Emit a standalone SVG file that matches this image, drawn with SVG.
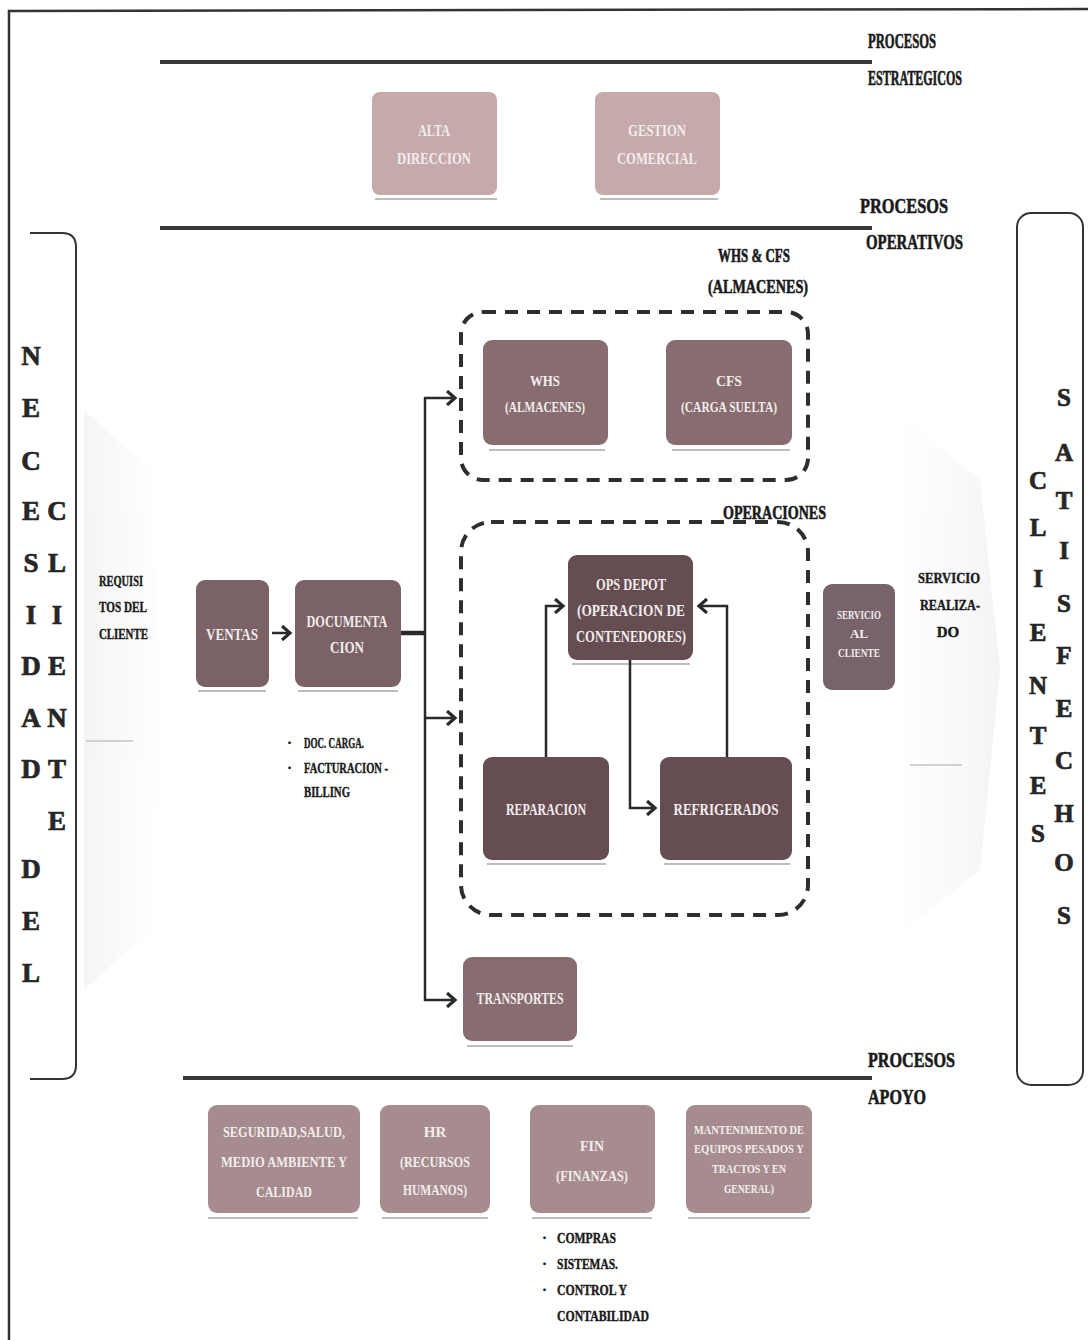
<svg xmlns="http://www.w3.org/2000/svg" width="1088" height="1340" viewBox="0 0 1088 1340">
  <defs>
    <style>
      .t { font-family: "Liberation Serif", "Times New Roman", serif; font-weight: bold; }
      .lbl { fill: #1a1a1a; stroke: #1a1a1a; stroke-width: 0.6px; font-size: 22px; }
      .big { fill: #262626; stroke: #262626; stroke-width: 0.7px; font-size: 27px; text-anchor: middle; }
      .small { fill: #1a1a1a; stroke: #1a1a1a; stroke-width: 0.4px; font-size: 15px; }
      .wt { fill: #f2ecec; text-anchor: middle; font-size: 16px; }
      .rule { stroke: #3a3a3a; stroke-width: 4; }
      .dash { fill: none; stroke: #2e2e2e; stroke-width: 4; stroke-dasharray: 13 9; }
      .conn { fill: none; stroke: #2a2a2a; stroke-width: 2.5; }
      .strat { fill: #c6a9ab; }
      .mid { fill: #876c70; }
      .dark { fill: #654d52; }
      .doc { fill: #7a6266; }
      .sup { fill: #a68c8f; }
      .shadow { stroke: #bdbdbd; stroke-width: 2; }
    </style>
    <marker id="arr" markerUnits="userSpaceOnUse" markerWidth="14" markerHeight="16" refX="9" refY="8" orient="auto">
      <path d="M1,1 L9,8 L1,15" fill="none" stroke="#2a2a2a" stroke-width="3.2"/>
    </marker>
    <linearGradient id="fadeL" x1="0" y1="0" x2="1" y2="0">
      <stop offset="0" stop-color="#e6e6e6" stop-opacity="0.9"/>
      <stop offset="1" stop-color="#f4f4f4" stop-opacity="0.2"/>
    </linearGradient>
    <linearGradient id="fadeR" x1="0" y1="0" x2="1" y2="0">
      <stop offset="0" stop-color="#f4f4f4" stop-opacity="0.2"/>
      <stop offset="1" stop-color="#e4e4e4" stop-opacity="0.9"/>
    </linearGradient>
  </defs>

  <rect x="0" y="0" width="1088" height="1340" fill="#ffffff"/>

  <!-- page frame -->
  <path d="M9,1340 L9,11 L1088,9" fill="none" stroke="#333" stroke-width="2.5"/>

  <!-- soft flow arrows behind the operations band -->
  <g id="flow-in" opacity="0.45">
    <path d="M84,410 L150,470 L160,700 L150,930 L84,990 Z" fill="url(#fadeL)"/>
    <line x1="86" y1="741" x2="133" y2="741" stroke="#9a9a9a" stroke-width="2"/>
  </g>
  <g id="flow-out" opacity="0.45">
    <path d="M905,420 L980,480 L1000,670 L980,870 L905,930 Z" fill="url(#fadeR)"/>
    <line x1="910" y1="765" x2="962" y2="765" stroke="#9a9a9a" stroke-width="2"/>
  </g>

  <!-- section rules and titles -->
  <g id="strategic-title">
    <line class="rule" x1="160" y1="62" x2="872" y2="62"/>
    <text class="t lbl" x="868" y="48" style="font-size:20px" textLength="68" lengthAdjust="spacingAndGlyphs">PROCESOS</text>
    <text class="t lbl" x="868" y="85" style="font-size:20px" textLength="94" lengthAdjust="spacingAndGlyphs">ESTRATEGICOS</text>
  </g>
  <g id="operative-title">
    <line class="rule" x1="160" y1="228" x2="872" y2="228"/>
    <text class="t lbl" x="860" y="213" textLength="88" lengthAdjust="spacingAndGlyphs">PROCESOS</text>
    <text class="t lbl" x="866" y="249" textLength="97" lengthAdjust="spacingAndGlyphs">OPERATIVOS</text>
  </g>
  <g id="support-title">
    <line class="rule" x1="183" y1="1078" x2="872" y2="1078"/>
    <text class="t lbl" x="868" y="1067" textLength="87" lengthAdjust="spacingAndGlyphs">PROCESOS</text>
    <text class="t lbl" x="868" y="1104" textLength="58" lengthAdjust="spacingAndGlyphs">APOYO</text>
  </g>

  <!-- customer need (left) -->
  <g id="necesidad-cliente">
    <path d="M30,233 L62,233 Q76,233 76,247 L76,1065 Q76,1079 62,1079 L30,1079" fill="none" stroke="#333" stroke-width="2"/>
    <g class="t">
      <text class="big" x="31" y="365">N</text><text class="big" x="31" y="417">E</text><text class="big" x="31" y="470">C</text>
      <text class="big" x="31" y="520">E</text><text class="big" x="31" y="572">S</text><text class="big" x="31" y="624">I</text>
      <text class="big" x="31" y="675">D</text><text class="big" x="31" y="727">A</text><text class="big" x="31" y="778">D</text>
      <text class="big" x="31" y="878">D</text><text class="big" x="31" y="930">E</text><text class="big" x="31" y="982">L</text>
      <text class="big" x="57" y="520">C</text><text class="big" x="57" y="572">L</text><text class="big" x="57" y="624">I</text>
      <text class="big" x="57" y="675">E</text><text class="big" x="57" y="727">N</text><text class="big" x="57" y="778">T</text>
      <text class="big" x="57" y="830">E</text>
    </g>
  </g>

  <!-- satisfied customers (right) -->
  <g id="clientes-satisfechos">
    <rect x="1017" y="213" width="66" height="872" rx="14" fill="none" stroke="#333" stroke-width="2"/>
    <g class="t">
      <text class="big" style="font-size:25px" x="1038" y="489">C</text><text class="big" style="font-size:25px" x="1038" y="536">L</text><text class="big" style="font-size:25px" x="1038" y="587">I</text>
      <text class="big" style="font-size:25px" x="1038" y="641">E</text><text class="big" style="font-size:25px" x="1038" y="694">N</text><text class="big" style="font-size:25px" x="1038" y="744">T</text>
      <text class="big" style="font-size:25px" x="1038" y="794">E</text><text class="big" style="font-size:25px" x="1038" y="842">S</text>
      <text class="big" style="font-size:25px" x="1064" y="406">S</text><text class="big" style="font-size:25px" x="1064" y="461">A</text><text class="big" style="font-size:25px" x="1064" y="509">T</text>
      <text class="big" style="font-size:25px" x="1064" y="559">I</text><text class="big" style="font-size:25px" x="1064" y="612">S</text><text class="big" style="font-size:25px" x="1064" y="664">F</text>
      <text class="big" style="font-size:25px" x="1064" y="717">E</text><text class="big" style="font-size:25px" x="1064" y="769">C</text><text class="big" style="font-size:25px" x="1064" y="822">H</text>
      <text class="big" style="font-size:25px" x="1064" y="871">O</text><text class="big" style="font-size:25px" x="1064" y="924">S</text>
    </g>
  </g>

  <g id="requisitos" class="t">
    <text class="small" x="99" y="586" textLength="44" lengthAdjust="spacingAndGlyphs">REQUISI</text>
    <text class="small" x="99" y="612" textLength="48" lengthAdjust="spacingAndGlyphs">TOS DEL</text>
    <text class="small" x="99" y="639" textLength="49" lengthAdjust="spacingAndGlyphs">CLIENTE</text>
  </g>
  <g id="servicio-realizado" class="t" text-anchor="middle">
    <text class="small" x="949" y="583" textLength="62" lengthAdjust="spacingAndGlyphs">SERVICIO</text>
    <text class="small" x="950" y="610" textLength="60" lengthAdjust="spacingAndGlyphs">REALIZA-</text>
    <text class="small" x="948" y="637">DO</text>
  </g>

  <!-- strategic processes -->
  <g id="alta-direccion">
    <rect class="strat" x="372" y="92" width="125" height="103" rx="8"/>
    <line class="shadow" x1="375" y1="199" x2="497" y2="199"/>
    <text class="t wt" x="434" y="136" textLength="32" lengthAdjust="spacingAndGlyphs">ALTA</text>
    <text class="t wt" x="434" y="164" textLength="74" lengthAdjust="spacingAndGlyphs">DIRECCION</text>
  </g>
  <g id="gestion-comercial">
    <rect class="strat" x="595" y="92" width="125" height="103" rx="8"/>
    <line class="shadow" x1="600" y1="199" x2="718" y2="199"/>
    <text class="t wt" x="657" y="136" textLength="58" lengthAdjust="spacingAndGlyphs">GESTION</text>
    <text class="t wt" x="657" y="164" textLength="80" lengthAdjust="spacingAndGlyphs">COMERCIAL</text>
  </g>

  <!-- warehouses -->
  <g id="whs-cfs">
    <rect class="dash" x="461" y="312" width="347" height="168" rx="22"/>
    <text class="t lbl" x="754" y="262" style="font-size:19px" text-anchor="middle" textLength="72" lengthAdjust="spacingAndGlyphs">WHS &amp; CFS</text>
    <text class="t lbl" x="758" y="293" style="font-size:19px" text-anchor="middle" textLength="100" lengthAdjust="spacingAndGlyphs">(ALMACENES)</text>
  </g>
  <g id="whs">
    <rect class="mid" x="483" y="340" width="125" height="105" rx="9"/>
    <line class="shadow" x1="489" y1="450" x2="605" y2="450"/>
    <text class="t wt" x="545" y="386" style="font-size:14px" textLength="30" lengthAdjust="spacingAndGlyphs">WHS</text>
    <text class="t wt" x="545" y="412" style="font-size:14px" textLength="80" lengthAdjust="spacingAndGlyphs">(ALMACENES)</text>
  </g>
  <g id="cfs">
    <rect class="mid" x="666" y="340" width="126" height="105" rx="9"/>
    <line class="shadow" x1="672" y1="450" x2="790" y2="450"/>
    <text class="t wt" x="729" y="386" style="font-size:14px" textLength="26" lengthAdjust="spacingAndGlyphs">CFS</text>
    <text class="t wt" x="729" y="412" style="font-size:14px" textLength="96" lengthAdjust="spacingAndGlyphs">(CARGA SUELTA)</text>
  </g>

  <!-- operations -->
  <g id="operaciones">
    <rect class="dash" x="461" y="522" width="347" height="393" rx="30"/>
    <text class="t lbl" x="723" y="519" style="font-size:19px" textLength="103" lengthAdjust="spacingAndGlyphs">OPERACIONES</text>
  </g>
  <g id="ops-depot">
    <rect class="dark" x="568" y="555" width="125" height="105" rx="9"/>
    <line class="shadow" x1="572" y1="664" x2="690" y2="664"/>
    <text class="t wt" x="631" y="590" textLength="70" lengthAdjust="spacingAndGlyphs">OPS DEPOT</text>
    <text class="t wt" x="631" y="616" textLength="108" lengthAdjust="spacingAndGlyphs">(OPERACION DE</text>
    <text class="t wt" x="631" y="642" textLength="110" lengthAdjust="spacingAndGlyphs">CONTENEDORES)</text>
  </g>
  <g id="reparacion">
    <rect class="dark" x="483" y="757" width="126" height="103" rx="9"/>
    <line class="shadow" x1="487" y1="864" x2="606" y2="864"/>
    <text class="t wt" x="546" y="815" textLength="80" lengthAdjust="spacingAndGlyphs">REPARACION</text>
  </g>
  <g id="refrigerados">
    <rect class="dark" x="660" y="757" width="132" height="103" rx="9"/>
    <line class="shadow" x1="664" y1="864" x2="790" y2="864"/>
    <text class="t wt" x="726" y="815" textLength="105" lengthAdjust="spacingAndGlyphs">REFRIGERADOS</text>
  </g>
  <g id="servicio-cliente">
    <rect x="823" y="584" width="72" height="106" rx="9" fill="#76646a"/>
    <text class="t wt" x="859" y="619" style="font-size:13px" textLength="44" lengthAdjust="spacingAndGlyphs">SERVICIO</text>
    <text class="t wt" x="859" y="638" style="font-size:13px">AL</text>
    <text class="t wt" x="859" y="657" style="font-size:13px" textLength="42" lengthAdjust="spacingAndGlyphs">CLIENTE</text>
  </g>

  <!-- commercial chain -->
  <g id="ventas">
    <rect class="doc" x="196" y="580" width="73" height="107" rx="9"/>
    <line class="shadow" x1="198" y1="691" x2="266" y2="691"/>
    <text class="t wt" x="232" y="640" textLength="52" lengthAdjust="spacingAndGlyphs">VENTAS</text>
  </g>
  <g id="documentacion">
    <rect class="doc" x="295" y="580" width="106" height="107" rx="9"/>
    <line class="shadow" x1="298" y1="691" x2="398" y2="691"/>
    <text class="t wt" x="347" y="627" textLength="81" lengthAdjust="spacingAndGlyphs">DOCUMENTA</text>
    <text class="t wt" x="347" y="653" textLength="34" lengthAdjust="spacingAndGlyphs">CION</text>
  </g>
  <g id="doc-notes" class="t">
    <text class="small" x="287" y="748">·</text>
    <text class="small" x="304" y="748" textLength="60" lengthAdjust="spacingAndGlyphs">DOC. CARGA.</text>
    <text class="small" x="287" y="773">·</text>
    <text class="small" x="304" y="773" textLength="84" lengthAdjust="spacingAndGlyphs">FACTURACION -</text>
    <text class="small" x="304" y="797" textLength="46" lengthAdjust="spacingAndGlyphs">BILLING</text>
  </g>
  <g id="transportes">
    <rect class="mid" x="463" y="957" width="114" height="84" rx="9"/>
    <line class="shadow" x1="467" y1="1046" x2="573" y2="1046"/>
    <text class="t wt" x="520" y="1004" textLength="87" lengthAdjust="spacingAndGlyphs">TRANSPORTES</text>
  </g>

  <!-- support processes -->
  <g id="seguridad">
    <rect class="sup" x="208" y="1105" width="152" height="108" rx="9"/>
    <line class="shadow" x1="208" y1="1218" x2="358" y2="1218"/>
    <text class="t wt" x="284" y="1137" style="font-size:15px" textLength="122" lengthAdjust="spacingAndGlyphs">SEGURIDAD,SALUD,</text>
    <text class="t wt" x="284" y="1167" style="font-size:15px" textLength="126" lengthAdjust="spacingAndGlyphs">MEDIO AMBIENTE  Y</text>
    <text class="t wt" x="284" y="1197" style="font-size:15px" textLength="56" lengthAdjust="spacingAndGlyphs">CALIDAD</text>
  </g>
  <g id="hr">
    <rect class="sup" x="380" y="1105" width="110" height="108" rx="9"/>
    <line class="shadow" x1="382" y1="1218" x2="488" y2="1218"/>
    <text class="t wt" x="435" y="1137" style="font-size:15px">HR</text>
    <text class="t wt" x="435" y="1167" style="font-size:15px" textLength="70" lengthAdjust="spacingAndGlyphs">(RECURSOS</text>
    <text class="t wt" x="435" y="1195" style="font-size:15px" textLength="64" lengthAdjust="spacingAndGlyphs">HUMANOS)</text>
  </g>
  <g id="fin">
    <rect class="sup" x="530" y="1105" width="125" height="108" rx="9"/>
    <line class="shadow" x1="532" y1="1218" x2="652" y2="1218"/>
    <text class="t wt" x="592" y="1151" style="font-size:15px" textLength="24" lengthAdjust="spacingAndGlyphs">FIN</text>
    <text class="t wt" x="592" y="1181" style="font-size:15px" textLength="72" lengthAdjust="spacingAndGlyphs">(FINANZAS)</text>
  </g>
  <g id="mantenimiento">
    <rect class="sup" x="686" y="1105" width="126" height="108" rx="9"/>
    <line class="shadow" x1="688" y1="1218" x2="810" y2="1218"/>
    <text class="t wt" x="749" y="1134" style="font-size:13px" textLength="110" lengthAdjust="spacingAndGlyphs">MANTENIMIENTO DE</text>
    <text class="t wt" x="749" y="1153" style="font-size:13px" textLength="110" lengthAdjust="spacingAndGlyphs">EQUIPOS PESADOS Y</text>
    <text class="t wt" x="749" y="1173" style="font-size:13px" textLength="74" lengthAdjust="spacingAndGlyphs">TRACTOS Y EN</text>
    <text class="t wt" x="749" y="1193" style="font-size:13px" textLength="50" lengthAdjust="spacingAndGlyphs">GENERAL)</text>
  </g>
  <g id="fin-notes" class="t">
    <text class="small" x="542" y="1243">·</text>
    <text class="small" x="557" y="1243" textLength="59" lengthAdjust="spacingAndGlyphs">COMPRAS</text>
    <text class="small" x="542" y="1269">·</text>
    <text class="small" x="557" y="1269" textLength="61" lengthAdjust="spacingAndGlyphs">SISTEMAS.</text>
    <text class="small" x="542" y="1295">·</text>
    <text class="small" x="557" y="1295" textLength="70" lengthAdjust="spacingAndGlyphs">CONTROL Y</text>
    <text class="small" x="557" y="1321" textLength="92" lengthAdjust="spacingAndGlyphs">CONTABILIDAD</text>
  </g>

  <!-- connectors -->
  <g id="connectors">
    <line class="conn" x1="272" y1="633" x2="290" y2="633" stroke-width="3" marker-end="url(#arr)"/>
    <line x1="401" y1="633" x2="426" y2="633" stroke="#2a2a2a" stroke-width="4.5"/>
    <line class="conn" x1="425" y1="397" x2="425" y2="1001"/>
    <polyline class="conn" points="424,398 455,398" marker-end="url(#arr)"/>
    <polyline class="conn" points="425,718 455,718" marker-end="url(#arr)"/>
    <polyline class="conn" points="424,1000 455,1000" marker-end="url(#arr)"/>
    <polyline class="conn" points="546,757 546,606 563,606" marker-end="url(#arr)"/>
    <polyline class="conn" points="630,660 630,808 655,808" marker-end="url(#arr)"/>
    <polyline class="conn" points="727,757 727,606 699,606" marker-end="url(#arr)"/>
  </g>
</svg>
